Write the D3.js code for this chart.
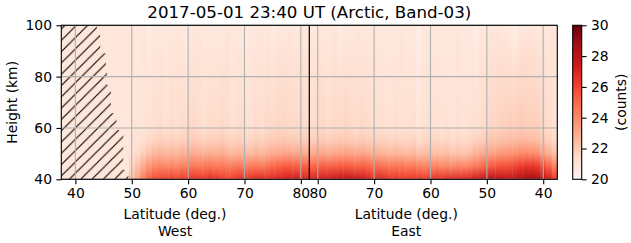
<!DOCTYPE html>
<html>
<head>
<meta charset="utf-8">
<script src="https://cdn.jsdelivr.net/npm/d3@7"></script>
<style>
  body { margin: 0; background: #fff; }
  svg { display: block; font-family: "DejaVu Sans", sans-serif; }
</style>
</head>
<body>
<div id="chart"></div>
<script>
// Data.
const chartTitle = "2017-05-01 23:40 UT (Arctic, Band-03)";
const levels = [40, 45, 50, 55, 60, 100]; // km, where the counts below are read

// West side, latitude 38 .. 81 (left to right).
const westLat = d3.range(38, 82);
const west40 = [21.0, 21.0, 21.0, 21.0, 21.0, 21.0, 21.0, 21.0, 21.0, 21.0, 21.0, 21.0,
  22.3, 23.2, 24.3, 25.2, 25.7, 25.9, 26.0, 26.1, 25.9, 26.2, 26.4, 26.5, 26.4, 26.3, 26.6, 26.5,
  26.2, 25.9, 26.2, 26.5, 26.6, 26.5, 26.7, 26.8, 26.6, 26.8, 27.0, 27.2, 27.3, 27.3, 27.1, 27.0];
const west45 = [20.9, 20.9, 20.9, 20.9, 20.9, 20.9, 20.9, 20.9, 20.9, 20.9, 20.9, 20.9,
  21.6, 22.3, 23.0, 23.6, 24.0, 24.2, 24.1, 24.2, 24.0, 24.3, 24.5, 24.6, 24.5, 24.6, 24.7, 24.5,
  24.6, 24.4, 24.5, 24.6, 24.4, 24.5, 24.6, 24.5, 24.7, 25.0, 25.2, 25.4, 25.4, 25.3, 25.2, 25.2];
const west50 = [20.9, 20.9, 20.9, 20.9, 20.9, 20.9, 20.9, 20.9, 20.9, 20.9, 20.9, 20.9,
  21.2, 21.5, 21.9, 22.3, 22.6, 22.7, 22.6, 22.7, 22.6, 22.8, 22.9, 23.0, 22.9, 22.8, 22.9, 22.9,
  23.0, 22.7, 22.6, 22.7, 22.6, 22.5, 22.7, 22.6, 22.8, 23.0, 23.1, 23.2, 23.2, 23.1, 23.1, 23.0];
const west55 = [20.9, 20.9, 20.9, 20.9, 20.9, 20.9, 20.9, 20.9, 20.9, 20.9, 20.9, 20.9,
  21.0, 21.1, 21.3, 21.5, 21.7, 21.8, 21.7, 21.8, 21.7, 21.9, 21.9, 22.0, 21.9, 21.8, 21.9, 21.9,
  22.0, 21.8, 21.7, 21.8, 21.7, 21.6, 21.8, 21.7, 21.9, 22.0, 22.1, 22.1, 22.0, 22.0, 22.0, 21.9];
const west60 = [20.9, 20.9, 20.9, 20.9, 20.9, 20.9, 20.9, 20.9, 20.9, 20.9, 20.9, 20.9,
  20.9, 21.0, 21.1, 21.2, 21.3, 21.4, 21.2, 21.4, 21.3, 21.4, 21.5, 21.5, 21.4, 21.3, 21.4, 21.4,
  21.5, 21.4, 21.2, 21.4, 21.3, 21.2, 21.4, 21.3, 21.5, 21.5, 21.6, 21.6, 21.5, 21.5, 21.5, 21.4];
const west100 = [20.9, 20.9, 20.9, 20.9, 20.9, 20.9, 20.9, 20.9, 20.9, 20.9, 20.9, 20.9,
  20.9, 20.8, 20.9, 20.6, 20.8, 20.8, 20.7, 20.8, 20.9, 20.8, 20.6, 20.8, 20.9, 20.8, 20.8, 20.7,
  20.8, 20.9, 20.8, 20.8, 20.7, 20.8, 20.8, 20.9, 20.8, 20.6, 20.8, 20.8, 20.9, 20.8, 20.9, 20.8];

// East side, latitude 81 .. 38 (left to right).
const eastLat = d3.range(81, 37, -1);
const east40 = [27.0, 27.2, 27.3, 27.3, 27.5, 27.7, 27.8, 27.6, 27.5, 27.3, 27.0, 26.8, 26.9, 26.6,
  26.3, 26.4, 26.2, 26.3, 26.4, 26.3, 26.2, 26.5, 26.6, 26.5, 26.7, 26.8, 26.7, 26.9, 27.0, 27.3,
  27.5, 28.0, 28.2, 28.1, 27.8, 27.8, 28.0, 28.3, 28.7, 28.8, 28.6, 28.0, 27.3, 26.3];
const east45 = [25.1, 25.2, 25.3, 25.2, 25.3, 25.4, 25.4, 25.3, 25.2, 25.3, 25.1, 25.0, 24.8, 24.7,
  24.6, 24.7, 24.6, 24.4, 24.5, 24.3, 24.2, 24.3, 24.2, 24.0, 24.1, 24.0, 24.2, 24.1, 24.3, 24.6,
  24.9, 25.2, 25.4, 25.6, 25.7, 25.8, 26.0, 26.3, 26.5, 26.5, 26.3, 25.8, 25.2, 24.2];
const east50 = [23.0, 23.1, 23.1, 23.0, 23.2, 23.2, 23.3, 23.2, 23.1, 23.2, 23.0, 22.9, 22.8, 22.7,
  22.6, 22.7, 22.6, 22.5, 22.6, 22.3, 22.4, 22.5, 22.4, 22.3, 22.4, 22.2, 22.3, 22.2, 22.4, 22.8,
  23.0, 23.2, 23.3, 23.5, 23.6, 23.7, 23.8, 24.0, 24.1, 24.0, 23.8, 23.3, 22.9, 22.3];
const east55 = [21.9, 22.0, 22.0, 21.9, 22.0, 22.1, 22.1, 22.0, 21.9, 22.0, 21.9, 21.8, 21.8, 21.7,
  21.6, 21.7, 21.6, 21.6, 21.7, 21.4, 21.6, 21.7, 21.6, 21.5, 21.6, 21.4, 21.6, 21.5, 21.6, 21.8,
  21.9, 22.1, 22.2, 22.3, 22.4, 22.5, 22.5, 22.6, 22.6, 22.5, 22.4, 22.1, 21.8, 21.5];
const east60 = [21.4, 21.5, 21.5, 21.4, 21.5, 21.5, 21.6, 21.5, 21.4, 21.5, 21.4, 21.3, 21.3, 21.2,
  21.2, 21.3, 21.2, 21.2, 21.3, 21.0, 21.2, 21.3, 21.2, 21.1, 21.2, 21.0, 21.2, 21.1, 21.2, 21.3,
  21.4, 21.5, 21.6, 21.7, 21.8, 21.9, 21.9, 22.0, 21.9, 21.9, 21.8, 21.6, 21.4, 21.2];
const east100 = [20.8, 20.9, 20.8, 20.8, 20.9, 20.6, 20.7, 20.8, 20.9, 20.8, 20.8, 20.9, 20.8, 20.7,
  20.8, 20.8, 20.9, 20.8, 20.7, 20.5, 20.8, 20.9, 20.8, 20.8, 20.7, 20.8, 20.9, 20.8, 20.7, 20.5,
  20.8, 20.8, 20.9, 20.9, 20.8, 20.6, 20.5, 20.8, 20.9, 20.9, 20.8, 20.9, 20.8, 21.0];

// Hatched (no data) region on the west side: height bands and their edge latitude.
const hatchLow = [40, 43.6, 59.2, 65.7, 76.7, 82.6, 89.1, 96.2];
const hatchHigh = [43.6, 59.2, 65.7, 76.7, 82.6, 89.1, 96.2, 100];
const hatchEdge = [49.4, 48.5, 47.3, 46.3, 45.6, 45.4, 44.4, 43.8];

const latTicks = [40, 50, 60, 70, 80];
const heightTicks = [40, 60, 80, 100];
const countTicks = [20, 22, 24, 26, 28, 30];
const redsHex = ["#fff5f0", "#fee0d2", "#fcbba1", "#fc9272", "#fb6a4a",
  "#ef3b2c", "#cb181d", "#a50f15", "#67000d"];

// Layout.
const W = 631, H = 243;
const plot = { left: 61.3, right: 557.3, top: 25.3, bottom: 179.3 };
const mid = (plot.left + plot.right) / 2;
const fs = 13.9;

const xWest = d3.scaleLinear().domain([37.5, 81.5]).range([plot.left, mid]);
const xEast = d3.scaleLinear().domain([81.5, 37.5]).range([mid, plot.right]);
const y = d3.scaleLinear().domain([40, 100]).range([plot.bottom, plot.top]);
const color = d3.scaleLinear()
  .domain(redsHex.map((c, i) => 20 + (i * 10) / 8))
  .range(redsHex)
  .clamp(true);

const svg = d3.select("#chart").append("svg").attr("width", W).attr("height", H);
const defs = svg.append("defs");

// Columns of the heat map, one gradient per column.
function columns(side, lats, rows, xs) {
  lats.forEach((lat, i) => {
    const id = `g-${side}-${i}`;
    const grad = defs.append("linearGradient")
      .attr("id", id)
      .attr("gradientUnits", "userSpaceOnUse")
      .attr("x1", 0).attr("x2", 0)
      .attr("y1", y(40)).attr("y2", y(100));
    levels.forEach((h, k) => {
      grad.append("stop")
        .attr("offset", (y(40) - y(h)) / (y(40) - y(100)))
        .attr("stop-color", color(rows[k][i]));
    });
    const xa = xs(lat - 0.5), xb = xs(lat + 0.5);
    svg.append("rect")
      .attr("x", Math.min(xa, xb))
      .attr("y", y(100))
      .attr("width", Math.abs(xb - xa) + 0.4)
      .attr("height", y(40) - y(100))
      .attr("fill", `url(#${id})`);
  });
}
columns("w", westLat, [west40, west45, west50, west55, west60, west100], xWest);
columns("e", eastLat, [east40, east45, east50, east55, east60, east100], xEast);

// Hatch.
const s = 11.3;
defs.append("pattern")
  .attr("id", "hatch")
  .attr("patternUnits", "userSpaceOnUse")
  .attr("width", s).attr("height", s)
  .append("path")
  .attr("d", `M0,${s} L${s},0 M${-s / 2},${s / 2} L${s / 2},${-s / 2} M${s / 2},${s * 1.5} L${s * 1.5},${s / 2}`)
  .attr("stroke", "#000")
  .attr("stroke-width", 1.1);

let hp = `M${xWest(37.5)},${y(40)}`;
hatchEdge.forEach((e, i) => {
  hp += ` L${xWest(e)},${y(hatchLow[i])} L${xWest(e)},${y(hatchHigh[i])}`;
});
hp += ` L${xWest(37.5)},${y(100)} Z`;
svg.append("path").attr("d", hp).attr("fill", "url(#hatch)");

// Grid.
const grid = svg.append("g").attr("stroke", "#b0b0b0").attr("stroke-width", 1.1);
latTicks.forEach((t) => {
  [xWest(t), xEast(t)].forEach((x) => {
    grid.append("line").attr("x1", x).attr("x2", x).attr("y1", plot.top).attr("y2", plot.bottom);
  });
});
heightTicks.forEach((t) => {
  grid.append("line").attr("x1", plot.left).attr("x2", plot.right).attr("y1", y(t)).attr("y2", y(t));
});

// Dividing line between West and East.
svg.append("line")
  .attr("x1", mid).attr("x2", mid)
  .attr("y1", plot.top).attr("y2", plot.bottom)
  .attr("stroke", "#000").attr("stroke-width", 1.2);

// Frame.
svg.append("rect")
  .attr("x", plot.left).attr("y", plot.top)
  .attr("width", plot.right - plot.left).attr("height", plot.bottom - plot.top)
  .attr("fill", "none").attr("stroke", "#000").attr("stroke-width", 1.1);

// Axes.
function styleAxis(g) {
  g.select(".domain").remove();
  g.selectAll(".tick line").attr("stroke", "#000").attr("stroke-width", 1.1);
  g.selectAll(".tick text").attr("fill", "#000").style("font-size", fs + "px")
    .style("font-family", "DejaVu Sans");
}
svg.append("g").attr("transform", `translate(0,${plot.bottom})`)
  .call(d3.axisBottom(xWest).tickValues(latTicks).tickSize(4.9).tickPadding(4.4))
  .call(styleAxis);
svg.append("g").attr("transform", `translate(0,${plot.bottom})`)
  .call(d3.axisBottom(xEast).tickValues(latTicks).tickSize(4.9).tickPadding(4.4))
  .call(styleAxis);
svg.append("g").attr("transform", `translate(${plot.left},0)`)
  .call(d3.axisLeft(y).tickValues(heightTicks).tickSize(4.9).tickPadding(4.4))
  .call(styleAxis);

// Titles and labels.
svg.append("text").attr("x", mid).attr("y", 18)
  .attr("text-anchor", "middle").style("font-size", "16.67px").text(chartTitle);

[["West", 175], ["East", 406.3]].forEach(([side, cx]) => {
  const t = svg.append("text").attr("text-anchor", "middle").style("font-size", fs + "px");
  t.append("tspan").attr("x", cx).attr("y", 219).text("Latitude (deg.)");
  t.append("tspan").attr("x", cx).attr("y", 235.5).text(side);
});

svg.append("text")
  .attr("transform", `translate(17,${(plot.top + plot.bottom) / 2}) rotate(-90)`)
  .attr("text-anchor", "middle").style("font-size", fs + "px").text("Height (km)");

// Colorbar.
const cb = { x: 572.7, w: 9 };
const cy = d3.scaleLinear().domain([20, 30]).range([plot.bottom, plot.top]);
const cbGrad = defs.append("linearGradient").attr("id", "cbar")
  .attr("x1", 0).attr("x2", 0).attr("y1", 1).attr("y2", 0);
color.domain().forEach((v) => {
  cbGrad.append("stop").attr("offset", (v - 20) / 10).attr("stop-color", color(v));
});
svg.append("rect")
  .attr("x", cb.x).attr("y", plot.top).attr("width", cb.w).attr("height", plot.bottom - plot.top)
  .attr("fill", "url(#cbar)").attr("stroke", "#000").attr("stroke-width", 1.1);
svg.append("g").attr("transform", `translate(${cb.x + cb.w},0)`)
  .call(d3.axisRight(cy).tickValues(countTicks).tickSize(4.9).tickPadding(4.4))
  .call(styleAxis);
svg.append("text")
  .attr("transform", `translate(621,${(plot.top + plot.bottom) / 2}) rotate(-90)`)
  .attr("text-anchor", "middle").attr("dominant-baseline", "central")
  .style("font-size", fs + "px").text("(counts)");
</script>
</body>
</html>
